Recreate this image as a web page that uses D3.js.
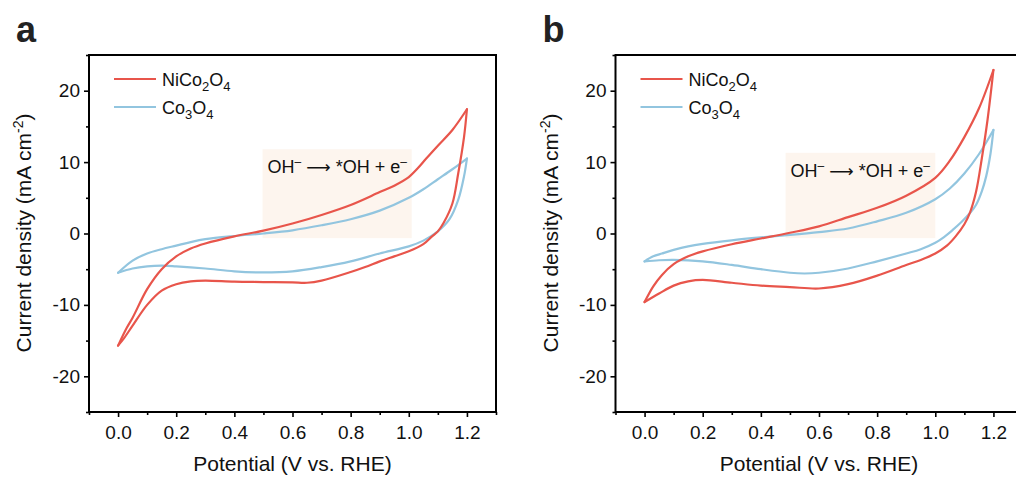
<!DOCTYPE html>
<html>
<head>
<meta charset="utf-8">
<script src="https://cdn.jsdelivr.net/npm/d3@7"></script>
<style>
  body { margin: 0; background: #fff; }
  svg { font-family: "Liberation Sans", Arial, sans-serif; }
  .frame { fill: none; stroke: #000; stroke-width: 2; }
  .axis path { stroke: #000; stroke-width: 2; }
  .axis line { stroke: #000; stroke-width: 1.6; }
  .axis text { font-size: 19px; fill: #111; }
</style>
</head>
<body>
<script>
const width = 1016;
const height = 479;

const xTicks = [0, 0.2, 0.4, 0.6, 0.8, 1.0, 1.2];
const xMinor = [-0.1, 0.1, 0.3, 0.5, 0.7, 0.9, 1.1, 1.3];
const yTicks = [-20, -10, 0, 10, 20];
const yMinor = [-25, -15, -5, 5, 15, 25];
const seriesNames = ['NiCo2O4', 'Co3O4'];
const colors = ['#e8554b', '#92c5df'];

// panel a, NiCo2O4 (anodic sweep, then cathodic sweep, both listed low -> high potential)
const niA_fwdV = [0, 0.03, 0.05, 0.1, 0.15, 0.2, 0.25, 0.3, 0.4, 0.5, 0.6, 0.7, 0.8, 0.9, 0.95, 1.0, 1.03, 1.06, 1.1, 1.15, 1.2];
const niA_fwdJ = [-15.7, -13.2, -11.8, -7.8, -5.0, -3.2, -2.1, -1.4, -0.4, 0.4, 1.4, 2.6, 4.0, 5.8, 6.7, 7.9, 9.1, 10.5, 12.3, 14.5, 17.4];
const niA_revV = [0, 0.02, 0.05, 0.1, 0.15, 0.2, 0.25, 0.3, 0.4, 0.5, 0.6, 0.65, 0.7, 0.8, 0.85, 0.9, 0.95, 1.0, 1.05, 1.08, 1.1, 1.12, 1.15, 1.17, 1.19, 1.2];
const niA_revJ = [-15.7, -14.7, -12.9, -10.0, -8.0, -7.1, -6.7, -6.6, -6.75, -6.8, -6.85, -6.9, -6.6, -5.4, -4.7, -3.9, -3.2, -2.5, -1.5, -0.4, 0.3, 1.5, 4.2, 8.4, 13.5, 17.4];

// panel a, Co3O4
const coA_fwdV = [0, 0.05, 0.1, 0.15, 0.2, 0.25, 0.3, 0.4, 0.5, 0.6, 0.7, 0.8, 0.9, 1.0, 1.05, 1.1, 1.15, 1.2];
const coA_fwdJ = [-5.5, -3.8, -2.8, -2.2, -1.7, -1.2, -0.8, -0.35, 0.0, 0.45, 1.15, 2.0, 3.2, 5.0, 6.2, 7.6, 9.0, 10.5];
const coA_revV = [0, 0.05, 0.1, 0.15, 0.2, 0.3, 0.4, 0.5, 0.6, 0.7, 0.8, 0.9, 1.0, 1.05, 1.1, 1.14, 1.17, 1.19, 1.2];
const coA_revJ = [-5.5, -4.9, -4.6, -4.5, -4.6, -4.9, -5.3, -5.45, -5.3, -4.7, -3.9, -2.8, -1.8, -1.0, 0.3, 2.0, 4.7, 8.0, 10.5];

// panel b, NiCo2O4
const niB_fwdV = [0, 0.03, 0.06, 0.1, 0.15, 0.2, 0.3, 0.4, 0.5, 0.6, 0.7, 0.8, 0.9, 1.0, 1.05, 1.1, 1.15, 1.2];
const niB_fwdJ = [-9.6, -7.4, -5.8, -4.3, -3.2, -2.5, -1.5, -0.7, 0.1, 1.0, 2.3, 3.6, 5.3, 7.8, 10.2, 13.5, 17.5, 22.9];
const niB_revV = [0, 0.05, 0.1, 0.15, 0.2, 0.3, 0.4, 0.5, 0.6, 0.7, 0.8, 0.9, 0.95, 1.0, 1.04, 1.07, 1.1, 1.12, 1.14, 1.16, 1.18, 1.2];
const niB_revJ = [-9.6, -8.4, -7.3, -6.7, -6.5, -6.9, -7.3, -7.5, -7.7, -7.1, -5.9, -4.4, -3.7, -2.8, -1.7, -0.4, 1.3, 3.0, 5.8, 10.5, 16.0, 22.9];

// panel b, Co3O4
const coB_fwdV = [0, 0.03, 0.06, 0.1, 0.15, 0.2, 0.3, 0.4, 0.5, 0.6, 0.7, 0.8, 0.9, 1.0, 1.05, 1.1, 1.15, 1.2];
const coB_fwdJ = [-3.9, -3.2, -2.8, -2.3, -1.8, -1.45, -0.95, -0.55, -0.2, 0.2, 0.7, 1.7, 2.9, 4.8, 6.3, 8.4, 11.1, 14.5];
const coB_revV = [0, 0.05, 0.1, 0.2, 0.3, 0.4, 0.5, 0.55, 0.6, 0.7, 0.8, 0.9, 0.95, 1.0, 1.03, 1.06, 1.09, 1.12, 1.14, 1.16, 1.175, 1.19, 1.2];
const coB_revJ = [-3.9, -3.75, -3.7, -3.9, -4.4, -5.0, -5.5, -5.6, -5.5, -4.9, -3.9, -2.8, -2.2, -1.3, -0.5, 0.5, 1.6, 2.9, 4.0, 5.9, 8.0, 11.2, 14.5];

// shaded region behind the reaction label: [V0, V1, J0, J1]
const shadeA = [0.497, 1.01, -0.65, 11.8];
const shadeB = [0.485, 1.0, -0.65, 11.3];

const zip = (v, j) => v.map((d, i) => ({ x: d, y: j[i] }));

const panels = [
  { label: 'a', left: 89, shade: shadeA,
    curves: [[zip(niA_fwdV, niA_fwdJ), zip(niA_revV, niA_revJ)], [zip(coA_fwdV, coA_fwdJ), zip(coA_revV, coA_revJ)]] },
  { label: 'b', left: 615.5, shade: shadeB,
    curves: [[zip(niB_fwdV, niB_fwdJ), zip(niB_revV, niB_revJ)], [zip(coB_fwdV, coB_fwdJ), zip(coB_revV, coB_revJ)]] }
];

const svg = d3.select('body').append('svg')
    .attr('width', width)
    .attr('height', height);

const plotW = 407;
const plotTop = 55;
const plotBottom = 412;

panels.forEach(p => {
  const g = svg.append('g').attr('transform', 'translate(' + p.left + ',0)');

  const xScale = d3.scaleLinear().domain([-0.1, 1.3]).range([0, plotW]);
  const yScale = d3.scaleLinear().domain([-25, 25]).range([plotBottom, plotTop]);

  // shaded box
  g.append('rect')
      .attr('x', xScale(p.shade[0]))
      .attr('y', yScale(p.shade[3]))
      .attr('width', xScale(p.shade[1]) - xScale(p.shade[0]))
      .attr('height', yScale(p.shade[2]) - yScale(p.shade[3]))
      .style('fill', '#fdf5ee');

  const ann = g.append('text')
      .attr('x', xScale(p.shade[0]) + 5)
      .attr('y', yScale(p.shade[3]) + 24)
      .style('font-size', '18px')
      .style('fill', '#111');
  ann.append('tspan').text('OH');
  ann.append('tspan').attr('dy', -7).style('font-size', '12px').text('\u2013');
  ann.append('tspan').attr('dy', 7).text(' ');
  ann.append('tspan').style('font-family', '"DejaVu Sans"').style('font-size', '17px').text('\u27F6');
  ann.append('tspan').text(' *OH + e');
  ann.append('tspan').attr('dy', -7).style('font-size', '12px').text('\u2013');

  // curves
  const line = d3.line()
      .x(d => xScale(d.x))
      .y(d => yScale(d.y))
      .curve(d3.curveCatmullRom.alpha(0.5));

  [1, 0].forEach(k => {
    p.curves[k].forEach(branch => {
      g.append('path')
          .attr('d', line(branch))
          .style('fill', 'none')
          .style('stroke', colors[k])
          .style('stroke-width', 2.2)
          .style('stroke-linejoin', 'round')
          .style('stroke-linecap', 'round');
    });
  });

  // axes
  g.append('g').attr('class', 'axis')
      .attr('transform', 'translate(0,' + plotBottom + ')')
      .call(d3.axisBottom(xScale).tickValues(xMinor).tickSize(3).tickFormat(''))
      .call(a => a.select('.domain').remove());
  g.append('g').attr('class', 'axis')
      .attr('transform', 'translate(0,' + plotBottom + ')')
      .call(d3.axisBottom(xScale).tickValues(xTicks).tickSize(5).tickSizeOuter(0).tickPadding(9).tickFormat(d => d.toFixed(1)))
      .call(a => a.select('.domain').remove());
  g.append('g').attr('class', 'axis')
      .call(d3.axisLeft(yScale).tickValues(yMinor).tickSize(3).tickFormat(''))
      .call(a => a.select('.domain').remove());
  g.append('g').attr('class', 'axis')
      .call(d3.axisLeft(yScale).tickValues(yTicks).tickSize(5).tickSizeOuter(0).tickPadding(4).tickFormat(d => String(d)))
      .call(a => a.select('.domain').remove());

  g.append('rect')
      .attr('class', 'frame')
      .attr('x', 0)
      .attr('y', plotTop)
      .attr('width', plotW)
      .attr('height', plotBottom - plotTop);

  // legend
  seriesNames.forEach((name, i) => {
    const ly = 79 + i * 28;
    g.append('line')
        .attr('x1', 25).attr('x2', 67)
        .attr('y1', ly).attr('y2', ly)
        .style('stroke', colors[i])
        .style('stroke-width', 2.2);
    const t = g.append('text')
        .attr('x', 73)
        .attr('y', ly + 7)
        .style('font-size', '18px')
        .style('fill', '#111');
    const parts = name.match(/[A-Za-z]+|\d+/g);
    let sub = false;
    parts.forEach(s => {
      const isNum = /\d/.test(s);
      const ts = t.append('tspan').text(s);
      if (isNum && !sub) { ts.attr('dy', 5).style('font-size', '13px'); sub = true; }
      else if (!isNum && sub) { ts.attr('dy', -5); sub = false; }
      else if (isNum) { ts.style('font-size', '13px'); }
    });
  });

  // axis titles
  g.append('text')
      .attr('x', plotW / 2)
      .attr('y', 471)
      .attr('text-anchor', 'middle')
      .style('font-size', '21px')
      .style('fill', '#111')
      .text('Potential (V vs. RHE)');

  const yt = g.append('text')
      .attr('transform', 'translate(-58,233) rotate(-90)')
      .attr('text-anchor', 'middle')
      .style('font-size', '21px')
      .style('fill', '#111');
  yt.append('tspan').text('Current density (mA cm');
  yt.append('tspan').attr('dy', -8).style('font-size', '14px').text('-2');
  yt.append('tspan').attr('dy', 8).text(')');

  // panel letter
  svg.append('text')
      .attr('x', p.left - 73)
      .attr('y', 42)
      .style('font-size', '36px')
      .style('font-weight', 'bold')
      .style('fill', '#222')
      .text(p.label);
});
</script>
</body>
</html>
